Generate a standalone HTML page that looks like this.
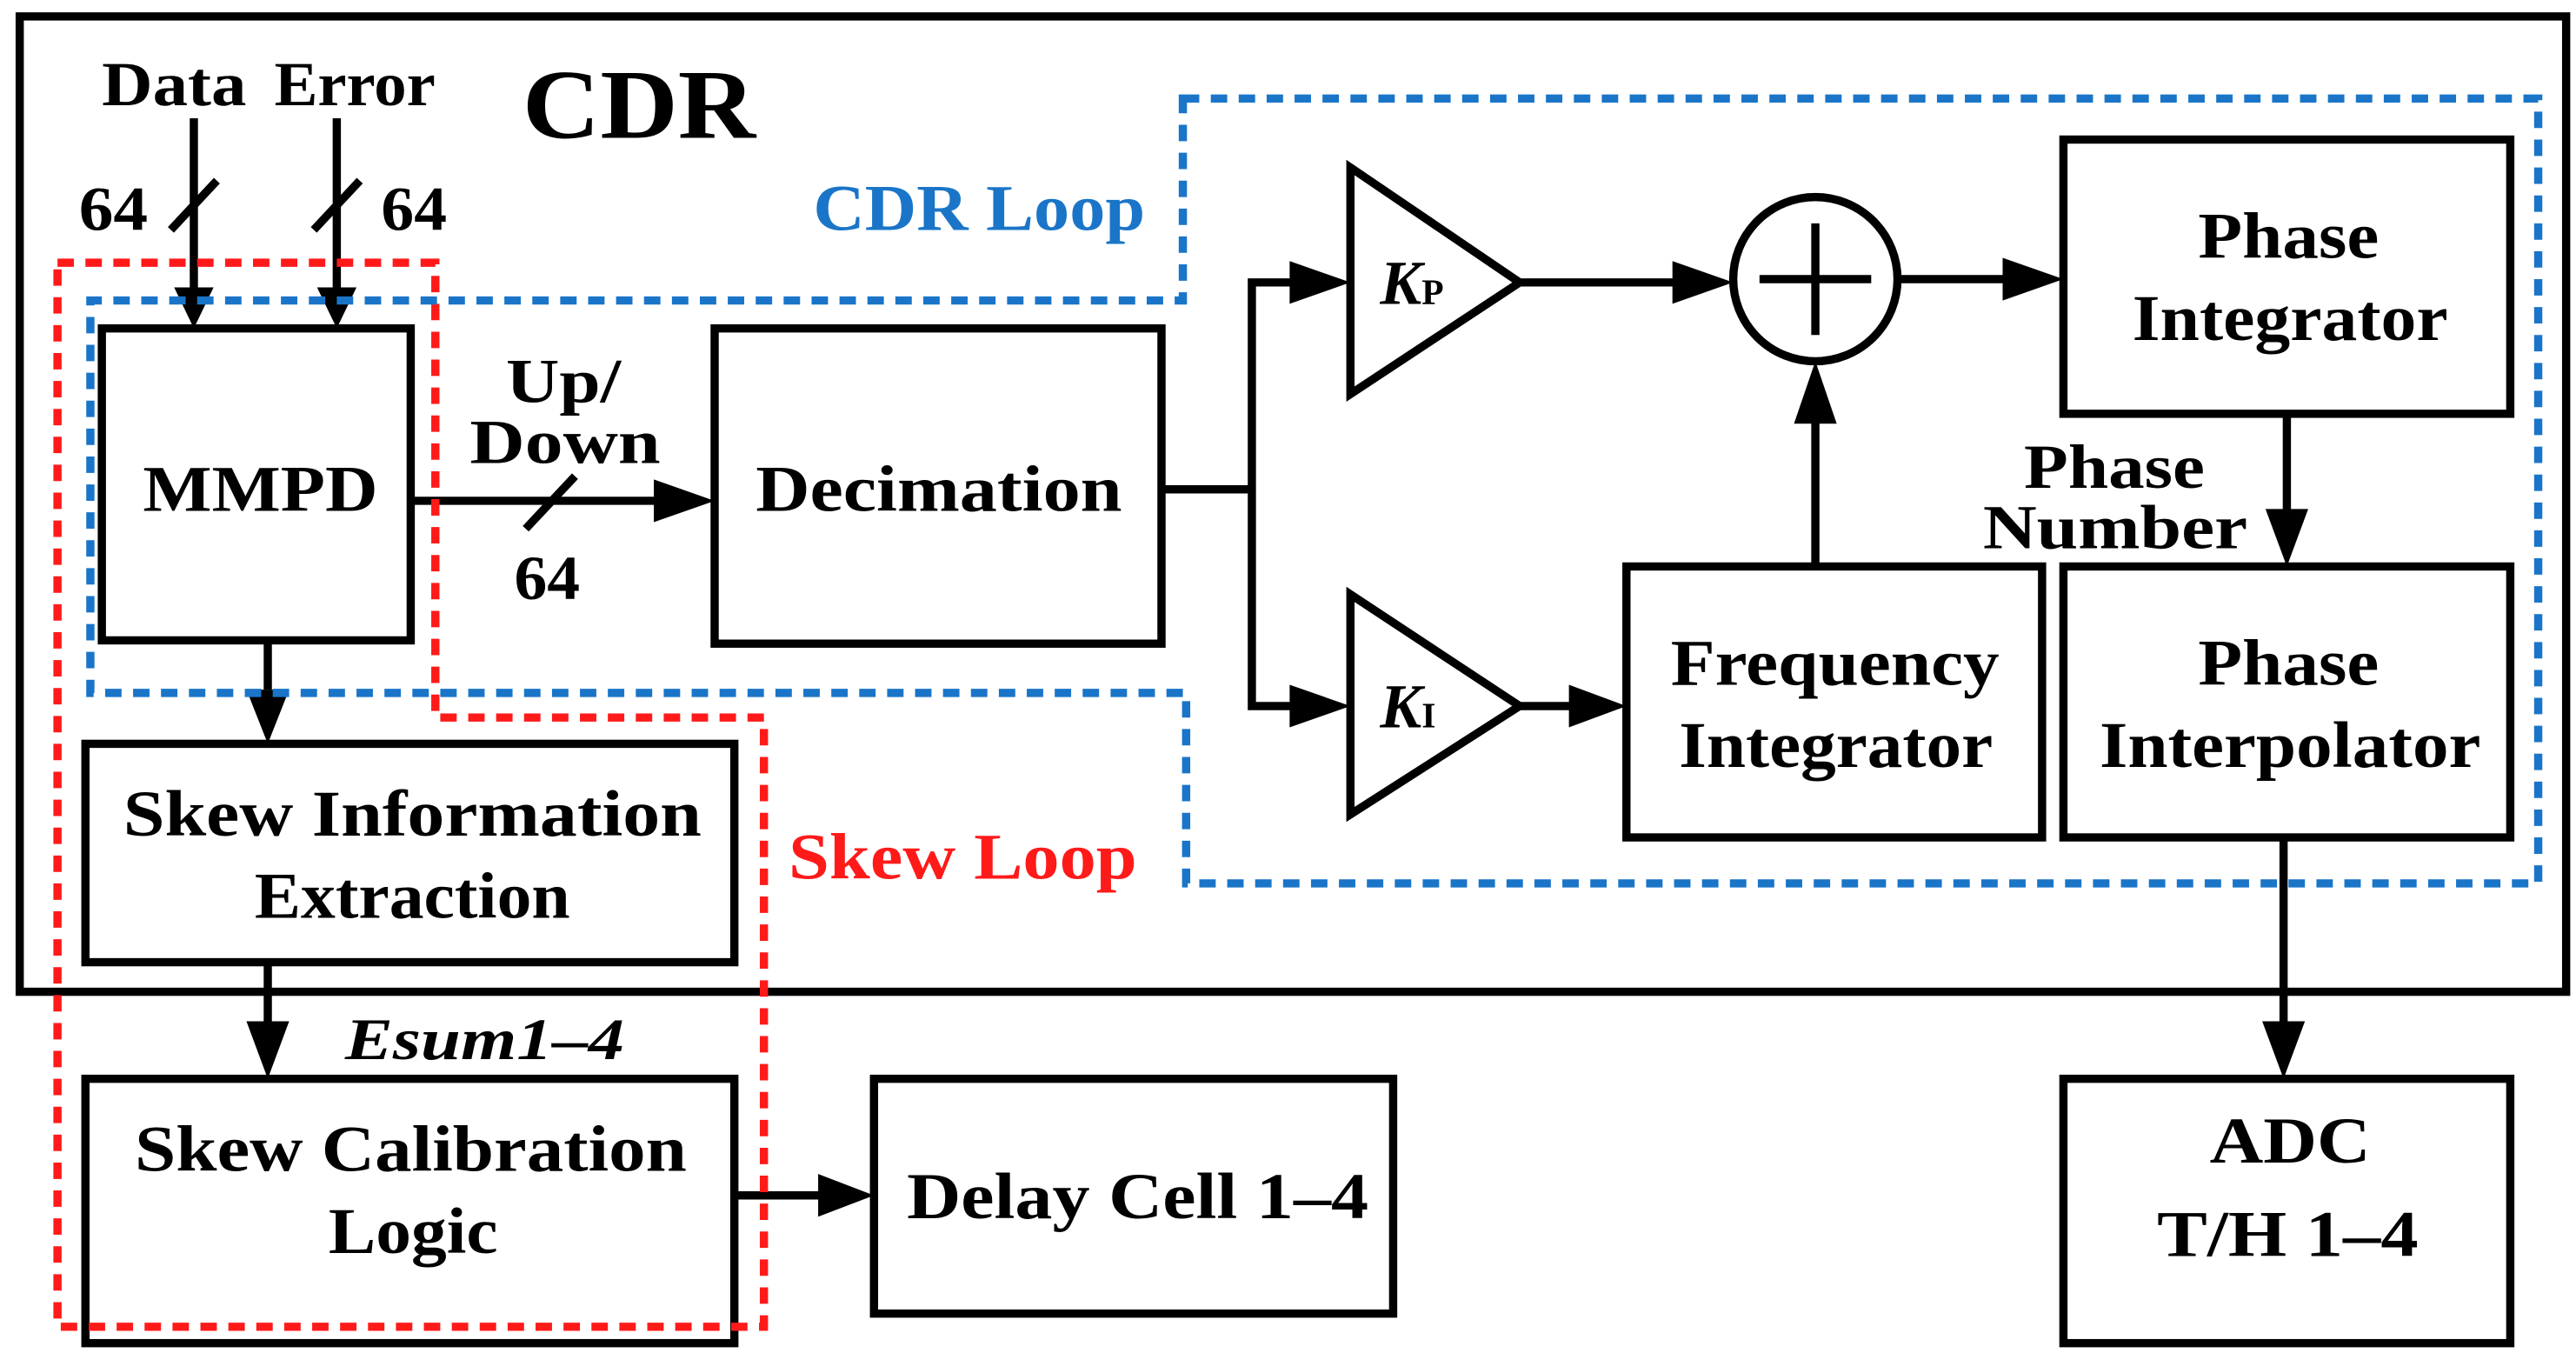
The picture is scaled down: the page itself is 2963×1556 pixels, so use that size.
<!DOCTYPE html>
<html><head><meta charset="utf-8"><style>
html,body{margin:0;padding:0;background:#fff;}
svg{display:block;}
text{font-family:"Liberation Serif",serif;font-weight:bold;fill:#000;}
</style></head><body>
<svg width="2963" height="1556" viewBox="0 0 1568 824" preserveAspectRatio="none" xmlns="http://www.w3.org/2000/svg">
<g fill="none" stroke="#000" stroke-width="5">
<rect x="12" y="10" width="1550" height="594"/>
<rect x="62" y="200" width="188" height="190"/>
<rect x="435" y="200" width="272" height="192"/>
<rect x="1256" y="85" width="272" height="167"/>
<rect x="990" y="345" width="253" height="165"/>
<rect x="1256" y="345" width="272" height="165"/>
<rect x="1256" y="657" width="272" height="161"/>
<rect x="52" y="453" width="395" height="133"/>
<rect x="52" y="657" width="395" height="161"/>
<rect x="532" y="657" width="316" height="143"/>
<polygon points="822,102 822,240 925,172"/>
<polygon points="822,362 822,496 925,430"/>
<circle cx="1105" cy="170" r="50"/>
<line x1="1105" y1="136" x2="1105" y2="204"/><line x1="1071" y1="170" x2="1139" y2="170"/>
<line x1="118" y1="72" x2="118" y2="175"/>
<line x1="205" y1="72" x2="205" y2="175"/>
<line x1="104" y1="140" x2="132" y2="110"/>
<line x1="191" y1="140" x2="219" y2="110"/>
<line x1="250" y1="305" x2="400" y2="305"/>
<line x1="320" y1="322" x2="350" y2="290"/>
<polyline points="707,298 762,298"/>
<polyline points="787,172 762,172 762,430 787,430"/>
<line x1="925" y1="172" x2="1022" y2="172"/>
<line x1="1155" y1="170" x2="1222" y2="170"/>
<line x1="925" y1="430" x2="957" y2="430"/>
<line x1="1105" y1="345" x2="1105" y2="255"/>
<line x1="1392" y1="252" x2="1392" y2="312"/>
<line x1="1390" y1="510" x2="1390" y2="624"/>
<line x1="163" y1="390" x2="163" y2="420"/>
<line x1="163" y1="586" x2="163" y2="624"/>
<line x1="447" y1="728" x2="500" y2="728"/>
</g>
<g fill="#000">
<polygon points="106,175 130,175 118,200"/>
<polygon points="193,175 217,175 205,200"/>
<polygon points="398,292 398,318 435,305"/>
<polygon points="785,159 785,185 822,172"/>
<polygon points="785,417 785,443 822,430"/>
<polygon points="1018,159 1018,185 1055,172"/>
<polygon points="1219,157 1219,183 1256,170"/>
<polygon points="955,417 955,443 990,430"/>
<polygon points="1092,258 1118,258 1105,220"/>
<polygon points="1379,310 1405,310 1392,345"/>
<polygon points="1377,622 1403,622 1390,657"/>
<polygon points="150,420 176,420 163,453"/>
<polygon points="150,622 176,622 163,657"/>
<polygon points="498,715 498,741 532,728"/>
</g>
<polygon points="35,160 265,160 265,437 465,437 465,808 35,808" fill="none" stroke="#ff1a1a" stroke-width="5" stroke-dasharray="10,7"/>
<polygon points="720,60 1545,60 1545,538 722,538 722,422 55,422 55,183 720,183" fill="none" stroke="#1a75c8" stroke-width="5" stroke-dasharray="10,7"/>
<g lengthAdjust="spacingAndGlyphs">
<text x="318" y="84" font-size="60" textLength="142" lengthAdjust="spacingAndGlyphs">CDR</text>
<text x="62" y="64" font-size="38" textLength="88" lengthAdjust="spacingAndGlyphs">Data</text>
<text x="167" y="64" font-size="38" textLength="98" lengthAdjust="spacingAndGlyphs">Error</text>
<text x="48" y="140" font-size="38" textLength="42" lengthAdjust="spacingAndGlyphs">64</text>
<text x="232" y="140" font-size="38" textLength="40" lengthAdjust="spacingAndGlyphs">64</text>
<text x="495" y="140" font-size="40" textLength="202" lengthAdjust="spacingAndGlyphs" style="fill:#1a75c8">CDR Loop</text>
<text x="480" y="535" font-size="40" textLength="212" lengthAdjust="spacingAndGlyphs" style="fill:#ff1a1a">Skew Loop</text>
<text x="87" y="311" font-size="40" textLength="143" lengthAdjust="spacingAndGlyphs">MMPD</text>
<text x="308" y="245" font-size="38" textLength="70" lengthAdjust="spacingAndGlyphs">Up/</text>
<text x="286" y="282" font-size="38" textLength="116" lengthAdjust="spacingAndGlyphs">Down</text>
<text x="313" y="365" font-size="38" textLength="40" lengthAdjust="spacingAndGlyphs">64</text>
<text x="460" y="311" font-size="40" textLength="223" lengthAdjust="spacingAndGlyphs">Decimation</text>
<text x="840" y="185" font-size="38" font-style="italic">K<tspan font-size="22" font-style="normal">P</tspan></text>
<text x="840" y="443" font-size="38" font-style="italic">K<tspan font-size="22" font-style="normal">I</tspan></text>
<text x="1338" y="157" font-size="40" textLength="110" lengthAdjust="spacingAndGlyphs">Phase</text>
<text x="1298" y="207" font-size="40" textLength="192" lengthAdjust="spacingAndGlyphs">Integrator</text>
<text x="1232" y="297" font-size="38" textLength="110" lengthAdjust="spacingAndGlyphs">Phase</text>
<text x="1207" y="334" font-size="38" textLength="161" lengthAdjust="spacingAndGlyphs">Number</text>
<text x="1017" y="417" font-size="40" textLength="200" lengthAdjust="spacingAndGlyphs">Frequency</text>
<text x="1022" y="467" font-size="40" textLength="191" lengthAdjust="spacingAndGlyphs">Integrator</text>
<text x="1338" y="417" font-size="40" textLength="110" lengthAdjust="spacingAndGlyphs">Phase</text>
<text x="1278" y="467" font-size="40" textLength="232" lengthAdjust="spacingAndGlyphs">Interpolator</text>
<text x="75" y="509" font-size="40" textLength="352" lengthAdjust="spacingAndGlyphs">Skew Information</text>
<text x="155" y="559" font-size="40" textLength="192" lengthAdjust="spacingAndGlyphs">Extraction</text>
<text x="210" y="645" font-size="36" font-style="italic" textLength="170" lengthAdjust="spacingAndGlyphs">Esum1–4</text>
<text x="82" y="713" font-size="40" textLength="336" lengthAdjust="spacingAndGlyphs">Skew Calibration</text>
<text x="200" y="763" font-size="40" textLength="103" lengthAdjust="spacingAndGlyphs">Logic</text>
<text x="552" y="742" font-size="40" textLength="281" lengthAdjust="spacingAndGlyphs">Delay Cell 1–4</text>
<text x="1345" y="708" font-size="40" textLength="98" lengthAdjust="spacingAndGlyphs">ADC</text>
<text x="1313" y="765" font-size="40" textLength="159" lengthAdjust="spacingAndGlyphs">T/H 1–4</text>
</g>
</svg>
</body></html>
